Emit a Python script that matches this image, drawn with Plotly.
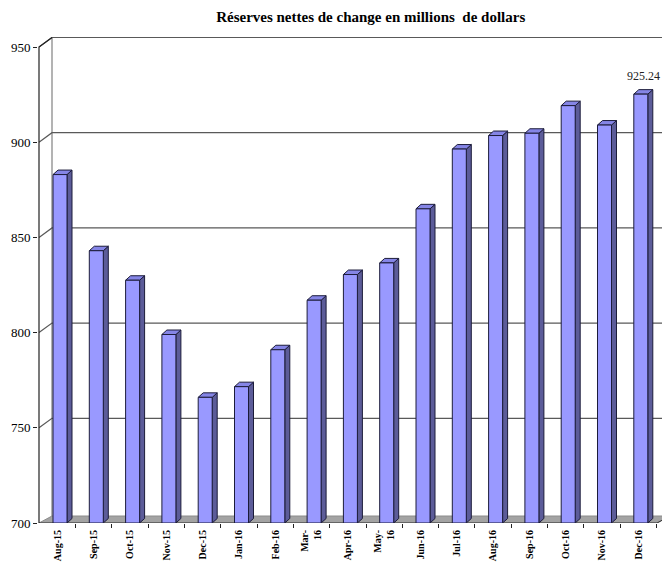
import plotly.graph_objects as go

# Monthly net foreign-exchange reserves (millions of dollars)
months = ["Aug-15", "Sep-15", "Oct-15", "Nov-15", "Dec-15", "Jan-16", "Feb-16",
          "Mar-<br>16", "Apr-16", "May-<br>16", "Jun-16", "Jul-16", "Aug-16",
          "Sep-16", "Oct-16", "Nov-16", "Dec-16"]
reserves = [883.0, 843.0, 827.5, 799.0, 766.0, 771.6, 791.0, 817.0, 830.5,
            836.6, 865.0, 896.4, 903.5, 904.7, 919.2, 909.0, 925.24]
y_ticks = [700, 750, 800, 850, 900, 950]
last_label = "925.24"

# ---- pseudo-3D geometry (pixel sizes converted to axis units) ----
W, H = 662, 563
ML, MT, MB = 38, 37, 40
PX_X = 36.3                      # pixels per category
PX_Y = 1.904                     # pixels per million
Y0 = y_ticks[0]
x_left = -21 / PX_X              # front left corner of the floor
x_min = x_left - 1 / PX_X
x_max = x_min + (W - ML) / PX_X
y_max = Y0 + (H - MT - MB) / PX_Y
x_right = x_left + 618 / PX_X    # front right corner of the floor

wall_dx = 13 / PX_X
wall_dy = 9.5 / PX_Y
floor_dy = 7 / PX_Y
bar_hw = 7 / PX_X
bar_dx = 5 / PX_X
bar_dy = 4.5 / PX_Y

FRONT = "#9999ff"
SIDE = "#5c5c99"
TOP = "#8585e6"
EDGE = "#1c1c3a"
GRID = "#595959"

fig = go.Figure()


def poly(xs, ys, fill, line_color, width=1):
    fig.add_trace(go.Scatter(
        x=list(xs) + [xs[0]], y=list(ys) + [ys[0]], mode="lines",
        fill="toself", fillcolor=fill,
        line=dict(color=line_color, width=width),
        hoverinfo="skip", showlegend=False))


def seg(xs, ys, color, width=1):
    fig.add_trace(go.Scatter(
        x=xs, y=ys, mode="lines", line=dict(color=color, width=width),
        hoverinfo="skip", showlegend=False))


# back wall: left edge and gridlines with their depth diagonals
seg([x_left + wall_dx, x_left + wall_dx], [Y0 + floor_dy, y_ticks[-1] + wall_dy], "#9a9a9a", 1.5)
for v in y_ticks[1:]:
    seg([x_left, x_left + wall_dx, x_max + 1], [v, v + wall_dy, v + wall_dy], GRID, 1.2)

# floor
poly([x_left, x_right, x_right + wall_dx, x_left + wall_dx],
     [Y0, Y0, Y0 + floor_dy, Y0 + floor_dy], "#a3a3a3", "#8c8c8c", 1)
seg([x_left, x_right], [Y0, Y0], "#333333", 1)
seg([x_right, x_right + wall_dx], [Y0, Y0 + floor_dy], "#333333", 1)

# front value axis line and its top diagonal
seg([x_left, x_left, x_left + wall_dx], [Y0, y_ticks[-1], y_ticks[-1] + wall_dy], "#222222", 1.2)

# bars: side, top and front faces
for i, v in enumerate(reserves):
    l, r = i - bar_hw, i + bar_hw
    poly([r, r + bar_dx, r + bar_dx, r], [Y0, Y0 + bar_dy, v + bar_dy, v], SIDE, EDGE)
    poly([l, r, r + bar_dx, l + bar_dx], [v, v, v + bar_dy, v + bar_dy], TOP, EDGE)
    poly([l, r, r, l], [Y0, Y0, v, v], FRONT, EDGE)

# invisible trace carrying the tick-mark axis
fig.add_trace(go.Scatter(x=[0], y=[Y0], xaxis="x2", mode="markers",
                         marker=dict(opacity=0), hoverinfo="skip", showlegend=False))

serif = "Liberation Serif, Times New Roman, serif"

fig.add_annotation(x=len(reserves) - 1 + bar_dx / 2, y=reserves[-1] + bar_dy + 2.5,
                   text=last_label, showarrow=False, yanchor="bottom",
                   font=dict(family=serif, size=12, color="#222222"))

fig.update_layout(
    width=W, height=H,
    margin=dict(l=ML, r=0, t=MT, b=MB, autoexpand=False),
    paper_bgcolor="white", plot_bgcolor="white",
    title=dict(text="<b>Réserves nettes de change en millions \u00a0de dollars</b>",
               x=0.56, xanchor="center", y=1 - 17 / H, yanchor="middle",
               font=dict(family=serif, size=15, color="black"), automargin=False),
    xaxis=dict(range=[x_min, x_max], tickvals=[i - 0.07 for i in range(len(months))],
               ticktext=[f"<b>{m}</b>" for m in months], tickangle=-90,
               ticks="outside", ticklen=2, tickcolor="rgba(0,0,0,0)", automargin=False,
               showgrid=False, zeroline=False, showline=False,
               tickfont=dict(family=serif, size=10, color="black")),
    xaxis2=dict(range=[x_min, x_max], overlaying="x", anchor="y", side="bottom",
                tickvals=[i + 0.43 for i in range(len(months))], automargin=False,
                ticks="outside", ticklen=4, tickcolor="#222222",
                showticklabels=False, showgrid=False, zeroline=False, showline=False),
    yaxis=dict(range=[Y0, y_max], tickvals=y_ticks, ticks="outside", ticklen=4,
               tickcolor="#222222", showgrid=False, zeroline=False, showline=False,
               automargin=False,
               tickfont=dict(family=serif, size=13, color="black")),
)

fig.write_html("out.html")
